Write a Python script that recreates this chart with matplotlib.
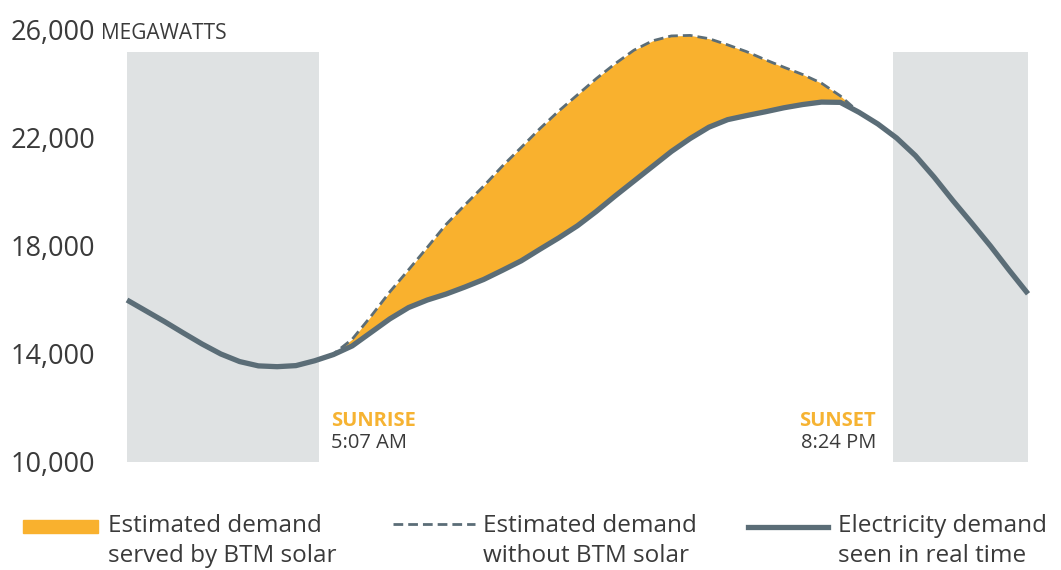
import numpy as np
import matplotlib.pyplot as plt
import matplotlib.transforms as mtransforms
from matplotlib.lines import Line2D
from matplotlib.patches import Rectangle

plt.rcParams['font.family'] = ['Open Sans', 'DejaVu Sans']

# demand seen in real time, every half hour from midnight to midnight (MW)
hours = np.arange(0, 24.5, 0.5)
real_time = [16000, 15600, 15200, 14780, 14370, 14000, 13720, 13560, 13530, 13570,
             13750, 13980, 14300, 14800, 15300, 15720, 16000, 16220, 16480, 16760,
             17100, 17450, 17880, 18300, 18750, 19280, 19850, 20400, 20950, 21500,
             21980, 22400, 22680, 22830, 22970, 23120, 23240, 23330, 23320, 22950,
             22520, 22000, 21350, 20550, 19680, 18850, 18000, 17100, 16230]

# estimated demand without behind-the-meter solar (5:00 -> 19:30)
solar_hours = np.arange(5.0, 20.0, 0.5)
no_solar = [13750, 14000, 14550, 15400, 16300, 17120, 17950, 18800, 19520, 20220,
            20960, 21650, 22350, 23000, 23600, 24200, 24750, 25250, 25600, 25780,
            25800, 25680, 25450, 25200, 24900, 24620, 24350, 24030, 23560, 22950]

yticks = [10000, 14000, 18000, 22000, 26000]
ylabels = ['10,000', '14,000', '18,000', '22,000', '26,000']
sunrise = 5 + 7 / 60
sunset = 20 + 24 / 60

GRAY = '#DFE2E3'
ORANGE = '#F9B12E'
LINE = '#5B6D77'
TEXT = '#3A3A3A'

W, H = 1061, 570
fig = plt.figure(figsize=(W / 100, H / 100), dpi=100)
ax = fig.add_axes([127 / W, 108 / H, 901 / W, 432 / H])
ax.set_xlim(0, 24)
ax.set_ylim(10000, 26000)

band_top = (25190 - 10000) / 16000
ax.axvspan(0, sunrise, ymin=0, ymax=band_top, color=GRAY, lw=0, zorder=0)
ax.axvspan(sunset, 24, ymin=0, ymax=band_top, color=GRAY, lw=0, zorder=0)

real_arr = np.array(real_time)
idx = np.searchsorted(hours, solar_hours)
ax.fill_between(solar_hours, real_arr[idx], no_solar, color=ORANGE, lw=0, zorder=1)
ax.plot(solar_hours, no_solar, color=LINE, lw=2.0, dashes=(3.5, 1.8), zorder=2)
ax.plot(hours, real_time, color=LINE, lw=3.8, solid_capstyle='butt',
        solid_joinstyle='round', zorder=3, clip_on=False)

for s in ax.spines.values():
    s.set_visible(False)
ax.set_xticks([])
ax.set_yticks(yticks, ylabels)
ax.tick_params(axis='y', length=0, pad=84, labelsize=19.5, labelcolor=TEXT)
for lab in ax.get_yticklabels():
    lab.set_ha('left')

trans = mtransforms.blended_transform_factory(fig.transFigure, ax.transData)
ax.text(101 / W, 25680, 'MEGAWATTS', transform=trans, fontsize=15, color=TEXT,
        va='baseline', ha='left')

ax.text(sunrise + 0.33, 11519, 'SUNRISE', color='#F6B332', fontsize=14.5,
        fontweight='bold', va='center', ha='left')
ax.text(sunrise + 0.33, 10704, '5:07 AM', color=TEXT, fontsize=14.5, va='center', ha='left')
ax.text(sunset - 0.45, 11519, 'SUNSET', color='#F6B332', fontsize=14.5,
        fontweight='bold', va='center', ha='right')
ax.text(sunset - 0.45, 10704, '8:24 PM', color=TEXT, fontsize=14.5, va='center', ha='right')

# legend
fig.add_artist(Rectangle((23 / W, 1 - 533 / H), 75 / W, 13 / H, color=ORANGE,
                         transform=fig.transFigure))
fig.add_artist(Line2D([393 / W, 475 / W], [1 - 524 / H] * 2, color=LINE, lw=2.0,
                      dashes=(3.5, 1.8), transform=fig.transFigure))
fig.add_artist(Line2D([748 / W, 828 / W], [1 - 527 / H] * 2, color=LINE, lw=3.8,
                      transform=fig.transFigure))
legend_text = [(108, 'Estimated demand\nserved by BTM solar'),
               (483, 'Estimated demand\nwithout BTM solar'),
               (838, 'Electricity demand\nseen in real time')]
for x, t in legend_text:
    fig.text(x / W, 1 - 541 / H, t, fontsize=17.5, color=TEXT, va='center', ha='left',
             linespacing=1.3)

fig.savefig('out.png', dpi=100)
